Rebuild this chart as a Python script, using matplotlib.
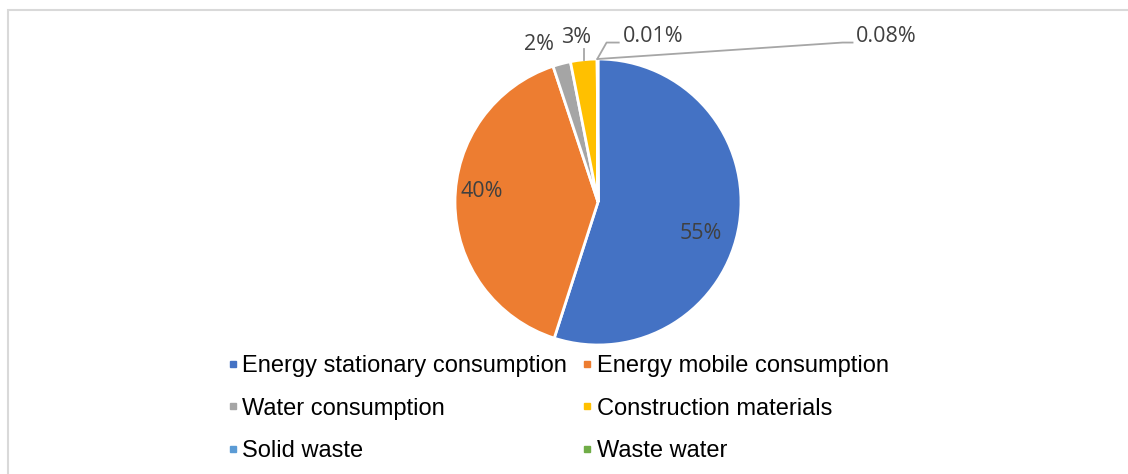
import matplotlib.pyplot as plt
from matplotlib.lines import Line2D
from matplotlib.patches import Rectangle
import numpy as np

categories = ["Energy stationary consumption", "Energy mobile consumption",
              "Water consumption", "Construction materials",
              "Solid waste", "Waste water"]
shares = [55, 40, 2, 3, 0.01, 0.08]
colors = ["#4472C4", "#ED7D31", "#A5A5A5", "#FFC000", "#5B9BD5", "#70AD47"]

# where each percentage label sits (pie radius = 1) and how it is aligned
label_xy = [(0.72, -0.22), (-0.81, 0.07), (-0.41, 1.10), (-0.15, 1.15),
            (0.175, 1.154), (1.80, 1.154)]
label_ha = ["center", "center", "center", "center", "left", "left"]
# leader lines: extra points after the wedge anchor (None -> keep anchor x)
leaders = {3: [(None, 1.07)],
           4: [(0.06, 1.115), (0.145, 1.115)],
           5: [(1.71, 1.115), (1.78, 1.115)]}

W, H = 1128, 474
fig = plt.figure(figsize=(W / 100, H / 100), dpi=100)

cx, cy, r = 598, 202, 143
ax = fig.add_axes([(cx - r) / W, (H - cy - r) / H, 2 * r / W, 2 * r / H])
wedges, _ = ax.pie(shares, colors=colors, startangle=90, counterclock=False,
                   radius=1, wedgeprops=dict(edgecolor="white", linewidth=2))
ax.set_xlim(-1, 1)
ax.set_ylim(-1, 1)
ax.set_aspect("equal")
ax.axis("off")

for i, (w, v) in enumerate(zip(wedges, shares)):
    x, y = label_xy[i]
    ax.text(x, y, f"{v:g}%", ha=label_ha[i], va="center", fontsize=15.5,
            family="Open Sans", color="#404040", clip_on=False)
    if i in leaders:
        mid = np.deg2rad((w.theta1 + w.theta2) / 2)
        ax_, ay_ = np.cos(mid), np.sin(mid)
        pts = [(ax_, ay_)] + [(ax_ if px is None else px, py) for px, py in leaders[i]]
        xs, ys = zip(*pts)
        ax.plot(xs, ys, color="#A6A6A6", lw=1.3, clip_on=False)

# legend: 2 columns, filled row by row
order = [0, 2, 4, 1, 3, 5]
handles = [Line2D([], [], marker="s", linestyle="none", markersize=5,
                  markerfacecolor=colors[k], markeredgecolor=colors[k])
           for k in order]
fig.legend(handles, [categories[k] for k in order], ncol=2, frameon=False,
           loc="upper left", bbox_to_anchor=(215 / W, 1 - 343 / H),
           prop=dict(family="Liberation Sans", size=17),
           handlelength=0.5, handletextpad=0.15, columnspacing=0.6,
           labelspacing=0.88, borderpad=0)

fig.add_artist(Rectangle((8 / W, -0.05), 1.1, 1 - 10 / H + 0.05,
                         transform=fig.transFigure, fill=False,
                         edgecolor="#D9D9D9", lw=1.5))

fig.savefig("out.png", dpi=100, facecolor="white")
